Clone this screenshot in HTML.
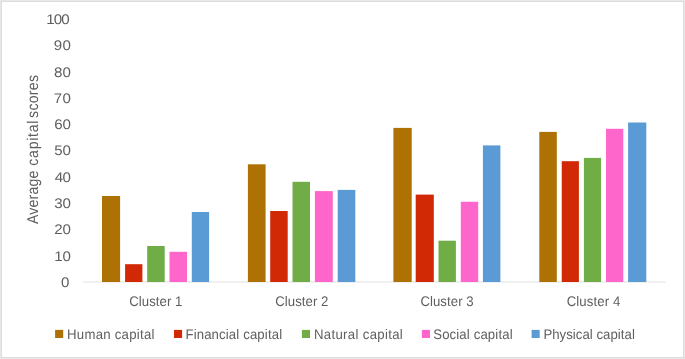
<!DOCTYPE html>
<html lang="en"><head><meta charset="utf-8"><title>Average capital scores by cluster</title>
<style>
html,body{margin:0;padding:0;background:#fff;}
body{width:685px;height:359px;overflow:hidden;}
svg{display:block;}
text{font-family:"Liberation Sans",Arial,sans-serif;fill:#5e5e5e;text-rendering:geometricPrecision;}
.ax{font-size:13.9px;}
.dg{font-size:14.0px;}
.yt{font-size:15.6px;}
</style></head><body>
<svg width="685" height="359" viewBox="0 0 685 359">
<rect x="0" y="0" width="685" height="359" fill="#ffffff"/>

<g shape-rendering="crispEdges">
<rect x="0" y="0" width="685" height="359" fill="#e8e8e8"/>
<rect x="1" y="1" width="683" height="357" fill="#dcdcdc"/>
<rect x="2" y="2" width="681" height="355" fill="#ffffff"/>
</g>
<line x1="83.3" y1="282" x2="665.6" y2="282" stroke="#e0e0e0" stroke-width="1"/>
<rect x="102.00" y="196.00" width="18.10" height="86.00" fill="#AD7203"/>
<rect x="125.10" y="264.20" width="17.30" height="17.80" fill="#D12805"/>
<rect x="147.20" y="246.00" width="17.50" height="36.00" fill="#70AD47"/>
<rect x="169.50" y="251.80" width="17.50" height="30.20" fill="#FF66CC"/>
<rect x="191.80" y="212.00" width="17.30" height="70.00" fill="#5B9BD5"/>
<rect x="247.90" y="164.30" width="17.70" height="117.70" fill="#AD7203"/>
<rect x="270.20" y="211.00" width="17.50" height="71.00" fill="#D12805"/>
<rect x="292.50" y="181.80" width="17.50" height="100.20" fill="#70AD47"/>
<rect x="314.90" y="191.10" width="17.90" height="90.90" fill="#FF66CC"/>
<rect x="337.70" y="189.90" width="17.60" height="92.10" fill="#5B9BD5"/>
<rect x="393.40" y="127.90" width="18.30" height="154.10" fill="#AD7203"/>
<rect x="415.70" y="194.60" width="18.10" height="87.40" fill="#D12805"/>
<rect x="438.50" y="240.70" width="17.40" height="41.30" fill="#70AD47"/>
<rect x="460.80" y="201.75" width="17.40" height="80.25" fill="#FF66CC"/>
<rect x="482.90" y="145.40" width="17.50" height="136.60" fill="#5B9BD5"/>
<rect x="539.30" y="131.90" width="17.50" height="150.10" fill="#AD7203"/>
<rect x="561.75" y="161.20" width="17.15" height="120.80" fill="#D12805"/>
<rect x="583.90" y="157.90" width="17.10" height="124.10" fill="#70AD47"/>
<rect x="606.00" y="128.80" width="17.30" height="153.20" fill="#FF66CC"/>
<rect x="628.10" y="122.50" width="18.20" height="159.50" fill="#5B9BD5"/>
<text class="dg" transform="translate(61.00,287.00) scale(1.080,1)" text-anchor="start">0</text>
<text class="dg" transform="translate(54.31,261.00) scale(1.080,1)" text-anchor="start" textLength="15.41" lengthAdjust="spacing">10</text>
<text class="dg" transform="translate(54.36,234.00) scale(1.080,1)" text-anchor="start" textLength="15.36" lengthAdjust="spacing">20</text>
<text class="dg" transform="translate(54.14,208.00) scale(1.080,1)" text-anchor="start" textLength="15.57" lengthAdjust="spacing">30</text>
<text class="dg" transform="translate(54.64,182.00) scale(1.080,1)" text-anchor="start" textLength="15.11" lengthAdjust="spacing">40</text>
<text class="dg" transform="translate(54.14,155.00) scale(1.080,1)" text-anchor="start" textLength="15.57" lengthAdjust="spacing">50</text>
<text class="dg" transform="translate(54.13,129.00) scale(1.080,1)" text-anchor="start" textLength="15.58" lengthAdjust="spacing">60</text>
<text class="dg" transform="translate(53.83,103.00) scale(1.080,1)" text-anchor="start" textLength="15.86" lengthAdjust="spacing">70</text>
<text class="dg" transform="translate(54.05,77.00) scale(1.080,1)" text-anchor="start" textLength="15.65" lengthAdjust="spacing">80</text>
<text class="dg" transform="translate(53.79,50.00) scale(1.080,1)" text-anchor="start" textLength="15.89" lengthAdjust="spacing">90</text>
<text class="dg" transform="translate(46.37,24.00) scale(1.080,1)" text-anchor="start" textLength="21.66" lengthAdjust="spacing">100</text>
<text class="ax" transform="translate(129.15,306.00) scale(0.950,1)" text-anchor="start" textLength="56.13" lengthAdjust="spacing">Cluster 1</text>
<text class="ax" transform="translate(275.24,306.00) scale(0.950,1)" text-anchor="start" textLength="56.01" lengthAdjust="spacing">Cluster 2</text>
<text class="ax" transform="translate(420.41,306.00) scale(0.950,1)" text-anchor="start" textLength="56.04" lengthAdjust="spacing">Cluster 3</text>
<text class="ax" transform="translate(566.64,306.00) scale(0.950,1)" text-anchor="start" textLength="56.44" lengthAdjust="spacing">Cluster 4</text>
<rect x="55.1" y="329.9" width="8.1" height="8.1" fill="#AD7203"/>
<text class="ax" transform="translate(67.08,339.00) scale(0.950,1)" text-anchor="start" textLength="91.93" lengthAdjust="spacing">Human capital</text>
<rect x="174.0" y="329.9" width="8.1" height="8.1" fill="#D12805"/>
<text class="ax" transform="translate(185.45,339.00) scale(0.950,1)" text-anchor="start" textLength="101.71" lengthAdjust="spacing">Financial capital</text>
<rect x="301.9" y="329.9" width="8.1" height="8.1" fill="#70AD47"/>
<text class="ax" transform="translate(313.97,339.00) scale(0.950,1)" text-anchor="start" textLength="93.49" lengthAdjust="spacing">Natural capital</text>
<rect x="421.9" y="329.9" width="8.1" height="8.1" fill="#FF66CC"/>
<text class="ax" transform="translate(433.22,339.00) scale(0.950,1)" text-anchor="start" textLength="83.54" lengthAdjust="spacing">Social capital</text>
<rect x="531.6" y="329.9" width="8.1" height="8.1" fill="#5B9BD5"/>
<text class="ax" transform="translate(543.42,339.00) scale(0.950,1)" text-anchor="start" textLength="96.23" lengthAdjust="spacing">Physical capital</text>
<text class="yt" transform="translate(38,0) rotate(-90) scale(0.900,1)"><tspan x="-249.02" textLength="59.35" lengthAdjust="spacing">Average</tspan> <tspan x="-184.10" textLength="50.11" lengthAdjust="spacing">capital</tspan> <tspan x="-131.01" textLength="47.62" lengthAdjust="spacing">scores</tspan></text>
</svg>
</body></html>
